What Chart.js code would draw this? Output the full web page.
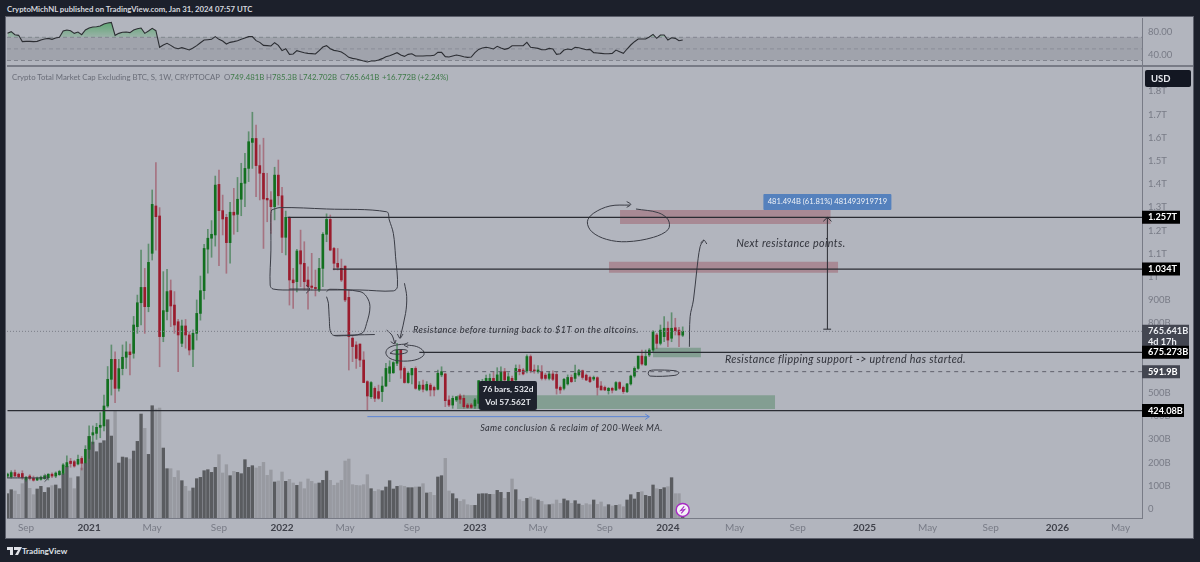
<!DOCTYPE html>
<html>
<head>
<meta charset="utf-8">
<script src="https://cdn.jsdelivr.net/npm/chart.js@4/dist/chart.umd.min.js"></script>
<style>
html,body{margin:0;padding:0;background:#1c202b;width:1200px;height:562px;overflow:hidden}
body{position:relative;font-family:Lato,sans-serif}
#panel{position:absolute;left:6px;top:17px;width:1187px;height:521px;background:#b2b5be;box-shadow:0 0 0 1px #5c5f6b}
canvas{position:absolute;left:7px}
#rsiCanvas{top:18px}
#mainCanvas{top:67px}
#divider{position:absolute;left:7px;top:65px;width:1186px;height:2px;background:#787b86}
#head{position:absolute;left:7px;top:4px;color:#d5d7de;font-size:7.8px;font-weight:700;white-space:nowrap}
.leg{position:absolute;top:72px;font-size:7.8px;color:#6a6d78;white-space:nowrap}
.leg b{font-weight:400;color:#3f7a49}
#brand{position:absolute;left:22px;top:546px;color:#dfe1e7;font-size:8.2px;font-weight:700}
#logo{position:absolute;left:7px;top:547px}
</style>
</head>
<body>
<div id="panel"></div>
<div id="head">CryptoMichNL published on TradingView.com, Jan 31, 2024 07:57 UTC</div>
<canvas id="rsiCanvas" width="1186" height="48"></canvas>
<canvas id="mainCanvas" width="1186" height="471"></canvas>
<div id="divider"></div>
<div class="leg" style="left:12px">Crypto Total Market Cap Excluding BTC, S, 1W, CRYPTOCAP</div>
<div class="leg" style="left:224px">O<b>749.481B</b></div>
<div class="leg" style="left:266px">H<b>785.3B</b></div>
<div class="leg" style="left:299px">L<b>742.702B</b></div>
<div class="leg" style="left:340px">C<b>765.641B</b></div>
<div class="leg" style="left:382px"><b>+16.772B (+2.24%)</b></div>
<svg id="logo" width="15" height="9" viewBox="0 0 15 9"><path d="M0 0h6v8H3V3H0zM7 0h8l-4 8H8l3-5H7z" fill="#dfe1e7"/></svg>
<div id="brand">TradingView</div>
<script>
// weekly candles, price in billions of USD
let opens=[142,139,157,150,153,128,142,132,125,128,
131,135,150,142,148,154,183,206,204,194,
218,200,257,319,326,352,358,444,559,645,
520,605,654,677,671,786,889,955,872,1102,
1306,1263,743,851,941,879,807,714,789,750,
688,757,843,941,1120,1167,1181,1399,1286,1257,
1148,1279,1270,1335,1404,1468,1580,1597,1480,1447,
1339,1332,1303,1439,1350,1171,1253,987,980,1113,
1059,987,961,955,944,1037,1184,1248,1123,1059,
1037,1047,912,736,707,711,642,549,484,520,
506,506,530,585,587,628,685,606,545,578,
606,516,534,513,534,524,516,578,582,470,
448,470,487,477,448,448,444,455,470,520,
527,563,542,549,592,549,563,556,602,599,
595,657,599,592,592,577,563,582,580,524,
520,539,567,563,578,596,577,567,560,566,
530,524,510,520,513,545,524,506,539,573,
606,659,621,664,685,750,714,743,779,736,
781,771,749]
let highs=[155,165,168,155,165,140,148,142,138,142,
146,152,156,160,167,196,229,218,210,232,
226,273,358,358,369,415,491,614,707,677,
645,707,721,711,830,922,1116,1037,1142,1375,
1493,1299,1023,1033,987,937,817,814,817,764,
772,901,1004,1141,1205,1243,1435,1461,1353,1270,
1322,1382,1429,1490,1533,1626,1710,1655,1569,1598,
1447,1368,1473,1504,1386,1284,1260,1037,1119,1202,
1152,1044,1102,1030,1080,1191,1272,1267,1128,1123,
1077,1047,944,743,721,711,678,553,549,527,
534,570,628,639,635,714,688,613,592,606,
613,549,556,549,542,530,599,613,585,488,
487,484,495,491,455,455,477,553,559,577,
582,592,609,613,606,587,573,621,621,606,
664,664,621,618,618,585,592,596,590,530,
563,578,578,620,602,599,582,573,573,570,
549,530,524,525,549,549,530,542,577,613,
659,685,685,692,769,757,793,829,807,846,
822,783,785]
let lows=[135,133,140,135,128,120,125,120,122,124,
128,125,135,135,145,148,180,180,180,190,
168,197,218,280,300,307,337,438,491,458,
508,578,606,578,650,757,793,757,850,1073,
1116,613,721,815,786,757,592,700,693,664,
613,728,814,904,1016,1085,1133,1049,1181,1016,
1059,1184,1195,1264,1303,1411,1468,1346,1332,1123,
1238,1188,1246,1310,1105,1095,879,865,936,958,
944,861,944,918,937,958,1152,1113,1030,1030,
980,894,599,635,606,613,545,427,477,463,
473,463,527,549,585,618,563,542,542,539,
516,510,505,509,487,487,513,570,441,441,
434,463,455,434,434,434,434,434,463,512,
520,505,520,535,530,530,515,545,578,578,
587,587,585,585,556,556,556,553,495,498,
513,534,545,549,573,559,553,545,553,491,
513,510,495,500,510,515,498,501,534,567,
602,620,618,657,678,692,707,721,700,721,
750,700,743]
let closes=[151,157,142,139,136,137,132,124,133,137,
143,150,142,155,162,190,200,196,185,214,
197,257,312,329,352,361,444,559,645,520,
605,654,677,665,793,889,955,872,1063,1313,
1260,743,855,937,875,793,750,789,750,685,
757,843,941,1123,1167,1184,1396,1286,1250,1148,
1279,1267,1335,1404,1468,1583,1597,1480,1447,1336,
1332,1303,1439,1350,1171,1257,987,975,1112,1056,
980,958,955,950,1037,1184,1248,1116,1059,1042,
987,901,743,700,649,642,545,487,545,477,
477,530,606,613,631,685,599,545,585,606,
520,534,516,537,513,513,585,592,467,448,
477,484,473,441,438,438,470,553,542,563,
563,524,578,592,556,570,534,606,592,582,
657,596,595,599,563,563,582,559,520,513,
559,567,549,585,596,567,556,549,567,524,
513,513,520,512,545,520,506,539,573,606,
659,625,657,685,764,714,771,779,728,779,
769,750,766]
let volumes=[608,708,675,591,858,975,741,583,725,791,
641,758,808,825,733,1108,1291,1000,733,1033,
1250,1374,2041,1899,1658,1874,1933,2457,2049,2666,
1374,1524,1508,1474,1674,1916,2599,2241,1591,2807,
2724,2749,1749,1233,1233,1016,1183,933,791,675,
750,983,1016,1183,1208,1141,1266,1583,1125,1333,
1058,1166,1141,1108,1458,1266,1308,1250,1291,1391,
1066,1200,900,925,1150,916,966,875,816,900,
733,975,916,858,875,941,1174,941,816,875,
941,1424,1474,833,816,808,833,1083,733,666,
708,683,775,933,725,791,808,791,758,758,
775,775,858,625,641,566,1025,1058,1491,675,
608,483,416,458,333,316,316,600,608,608,
591,591,691,641,491,641,975,708,458,416,
491,525,483,450,416,333,333,350,450,366,
475,433,366,433,350,316,358,333,450,341,
400,283,333,300,316,333,283,450,583,475,
641,658,566,541,825,733,716,758,783,1008,
608,608,165]
let rsi=[76.8,79.7,74.5,73.4,62.5,63,63,62.5,63,65.3,
67,68.2,66.5,68.8,70,80.9,82.6,81.4,76.8,79.1,
74.5,82.6,86,87.7,88.3,89.5,92.9,94.6,95.8,73.4,
76.8,78.6,79.1,78,82.6,84.9,86,76.8,80.9,85.4,
81.4,52.7,56.7,59.6,56.1,52.1,50.4,52.1,50.4,48.1,
51.5,55.6,60.7,65.3,65.9,66.5,71.1,66.5,63.6,58.4,
61.3,62.5,64.2,66.5,68.8,71.1,71.1,64.2,61.3,56.1,
55.6,55,60.7,56.1,47,50.4,40.6,41.2,47,45.2,
43.5,42.3,41.8,41.2,47,53.3,55.6,50.4,47.5,46.4,
44.6,40.6,35.4,33.7,32.6,30.9,29.1,27.4,29.1,29.1,
30.9,33.2,36.6,38.3,40.6,43.5,39.4,37.1,40.6,41.7,
37.7,37.7,37.7,38.3,38.3,38.9,44,44,36.6,36,
37.7,39.4,38.3,36.6,35.4,36,43.5,49.2,51.5,52.7,
51.5,49.8,54.4,51.5,49.2,50.9,55.5,55.5,55.5,55.5,
61.3,52.7,52.1,50.9,48.6,48.6,50.9,49.8,40.6,41.7,
48,49.8,48.6,52.7,52.1,50.4,48.6,49.2,43.5,42.9,
42.3,41.7,41.7,42.3,48,45.2,42.3,49.8,56.7,62.4,
67,67,67,70.5,75,68.2,73.9,73.9,65.3,69.3,
68.2,64.1,65.3]

let xTickWeeks=[5,22,39,57,74,91,109,126,143,161,178,196,213,231,248,265,283,300]
let xTickLabels=["Sep","2021","May","Sep","2022","May","Sep","2023","May","Sep","2024","May","Sep","2025","May","Sep","2026","May"]
let priceTicks=[0,100,200,300,400,500,600,700,800,900,1000,1100,1200,1300,1400,1500,1600,1700,1800]
let priceTickLabels=["0","100B","200B","300B","400B","500B","600B","700B","800B","900B","1T","1.1T","1.2T","1.3T","1.4T","1.5T","1.6T","1.7T","1.8T"]
let rsiTicks=[40,80]
let rsiTickLabels=["40.00","80.00"]

// horizontal levels drawn by hand: value, first week
let solidLevels=[1257,1034,675.273,424.08]
let solidStarts=[75.5,87.7,111,0]
let dashedLevel=591.9
let dashedStart=110.7
let lastPrice=765.641

// shaded zones: first week, last week, low, high
let zoneStarts=[165.1,162.1,174,121.1]
let zoneEnds=[221.9,223.9,186.9,206.9]
let zoneLows=[1228,1018,654,431]
let zoneHighs=[1289,1066,695,490]
let zoneColors=["rgba(150,50,65,.33)","rgba(150,50,65,.33)","rgba(60,125,80,.4)","rgba(60,125,80,.4)"]

// pen strokes, [week,price]
let boxOne=[[71.2,1289],[73.5,1299],[86,1293],[102.2,1281],[102.9,1246],[104,1188],[104.6,1087],[105.1,958],[104,940],[95,944],[77,944],[71.6,948],[70.8,965],[71,1116],[71,1274],[71.2,1289]]
let boxTwo=[[86,937],[86.9,947],[95,937],[96.8,915],[97.7,872],[96.8,800],[95.5,757],[90.5,747],[87.4,754],[86.7,829],[86.5,887],[86,915]]
let boxTwoTail=[[88,748],[99,752]]
let penArrow=[[107,973],[107.6,915],[107.3,843],[105.8,736]]
let penArrowHead=[[105.1,754],[105.8,736],[106.6,754]]
let sideArrow=[[102.2,771],[103.6,750],[104.4,714]]
let sideArrowHead=[[103.3,721],[104.4,712],[104.7,728]]
let ringOuter=[[107.6,707],[110.3,700],[112.1,681],[112.1,661],[109.8,642],[105.8,638],[103.1,649],[102,671],[102.6,693],[104.9,707],[107.6,711]]
let ringInner=[[103.1,671],[104.4,685],[107.6,685],[107.6,674],[104.9,667],[103.1,671]]
let ringHead=[[108,717],[106.9,707],[108,697]]
let pill=[[173,596],[174.1,599],[179.9,596],[181,587],[179.9,576],[173.2,573],[172.7,585],[173,596]]
let bigRing=[[167.8,1310],[162.4,1306],[157.9,1274],[156.3,1238],[157.5,1195],[161.5,1162],[166.9,1152],[174.1,1171],[178.1,1205],[178.1,1246],[175.4,1277],[169.4,1293]]
let bigRingHead=[[166.9,1325],[168,1313],[166.9,1300]]
let upArrow=[[183.8,699],[184,829],[184.9,901],[185.8,1030],[186.7,1131],[187.7,1159]]
let upArrowHead=[[186.8,1145],[187.7,1159],[188.5,1142]]
let boxArrow=[[76,948],[81.5,948]]
let boxArrowHead=[[80.5,965],[81.5,948],[80.5,930]]
let lowArrow=[[-0.1,134],[10.9,134]]
let lowArrowHead=[[10,118],[10.9,134],[10,150]]
let measure=[[221,775],[221,1257]]
let measureCap=[[219.9,775],[222,775]]
let measureHead=[[219.9,1240],[221,1257],[222.1,1240]]
let blueArrow=[[97,398],[173,398]]
let blueHead=[[171.9,409],[173,398],[171.9,386]]

let penStrokes=[boxOne,boxTwo,boxTwoTail,penArrow,penArrowHead,sideArrow,sideArrowHead,ringOuter,ringInner,ringHead,pill,bigRing,bigRingHead,upArrow,upArrowHead,boxArrow,boxArrowHead,lowArrow,lowArrowHead]
let rulerStrokes=[measure,measureCap,measureHead]

// italic notes on the chart
let noteTexts=["Resistance before turning back to $1T on the altcoins.","Next resistance points.","Resistance flipping support -> uptrend has started.","Same conclusion & reclaim of 200-Week MA."]
let noteWeeks=[109.3,196.4,193.4,127.4]
let notePrices=[771,1146,642,349]
let noteSizes=[9.3,10.8,10.7,9]

// price labels on the right axis
let levelLabels=["1.257T","1.034T","675.273B","591.9B","424.08B"]
let levelValues=[1257,1034,675.273,591.9,424.08]
let levelWidths=[38,38,47,38,42]
let levelFills=["#000","#000","#000","#434651","#000"]

let weeks=opens.map((v,i)=>i)
let xMin=-0.135
let xMax=305.8
let axisGrey="#787b86"
let fontName='Lato,sans-serif'

let up=i=>closes[i]>=opens[i]
let isYear=ctx=>ctx.tick&&/^20/.test(ctx.tick.label)
let lineSet=(points,color,width,dash,smooth)=>({
    type:"line",
    data:points.map(p=>({x:p[0],y:p[1]})),
    borderColor:color,
    borderWidth:width,
    borderDash:dash||[],
    pointRadius:0,
    tension:smooth?0.35:0,
    fill:false,
    order:1
})
let zoneSet=(i)=>({
    type:"line",
    data:[{x:zoneStarts[i],y:zoneHighs[i]},{x:zoneEnds[i],y:zoneHighs[i]}],
    borderWidth:0,
    pointRadius:0,
    fill:{target:{value:zoneLows[i]},above:zoneColors[i],below:zoneColors[i]},
    order:6
})

// keep the plot area the full canvas height, tick labels may overhang
let fitPriceAxis=(scale)=>{
    scale.width=51
    scale.paddingTop=0
    scale.paddingBottom=0
    scale._margins.top=0
    scale._margins.bottom=0
}

// RSI pane
let rsiCtx=document.querySelector("#rsiCanvas").getContext("2d")
let rsiGreen=rsiCtx.createLinearGradient(0,0,0,20)
rsiGreen.addColorStop(0,"rgba(46,160,70,.75)")
rsiGreen.addColorStop(1,"rgba(46,160,70,.15)")

new Chart(rsiCtx,{
    type:"line",
    data:{
        datasets:[
            {data:[{x:xMin,y:70},{x:xMax,y:70}],borderColor:"#82858f",borderWidth:1,borderDash:[4,3],pointRadius:0,
                fill:{target:{value:30},above:"rgba(120,123,134,.3)",below:"transparent"},order:3},
            {data:[{x:xMin,y:50},{x:xMax,y:50}],borderColor:"#92959f",borderWidth:1,borderDash:[4,3],pointRadius:0,fill:false,order:3},
            {data:[{x:xMin,y:30},{x:xMax,y:30}],borderColor:"#82858f",borderWidth:1,borderDash:[4,3],pointRadius:0,fill:false,order:3},
            {data:weeks.map(i=>({x:i,y:rsi[i]})),borderColor:"#2c2e33",borderWidth:1.1,pointRadius:0,
                fill:{target:{value:70},above:rsiGreen,below:"transparent"},order:1}
        ]
    },
    options:{
        animation:false,
        responsive:false,
        devicePixelRatio:1,
        layout:{padding:0,autoPadding:false},
        plugins:{legend:{display:false},tooltip:{enabled:false}},
        scales:{
            x:{type:"linear",min:xMin,max:xMax,display:false},
            y:{
                position:"right",min:20.5,max:103.3,
                afterBuildTicks:scale=>{scale.ticks=rsiTicks.map(value=>({value}))},
                afterFit:fitPriceAxis,
                grid:{display:false,drawTicks:false},
                border:{color:axisGrey},
                ticks:{padding:6,color:axisGrey,font:{family:fontName,size:9.5},
                    callback:v=>rsiTickLabels[rsiTicks.indexOf(v)]}
            }
        }
    }
})

// labels, notes and boxes that sit on top of the price pane
let overlay={
    id:"overlay",
    afterDraw:(chart)=>{
        let ctx=chart.ctx
        let x=chart.scales.x
        let y=chart.scales.y
        let box=(left,top,w,h,fill,r)=>{
            ctx.fillStyle=fill
            ctx.beginPath()
            ctx.roundRect(left,top,w,h,r||0)
            ctx.fill()
        }
        ctx.save()
        ctx.textBaseline="middle"
        ctx.textAlign="left"

        ctx.fillStyle="#30323a"
        noteTexts.forEach((t,i)=>{
            ctx.font=`italic ${noteSizes[i]}px ${fontName}`
            ctx.letterSpacing="0.35px"
            ctx.fillText(t,x.getPixelForValue(noteWeeks[i]),y.getPixelForValue(notePrices[i]))
        })
        ctx.letterSpacing="0px"

        // measure label
        let mx=x.getPixelForValue(221)
        let my=y.getPixelForValue(1323)
        box(mx-64,my-8,128,16,"#5581bd",1)
        ctx.fillStyle="#eef1f6"
        ctx.font=`7.6px ${fontName}`
        ctx.textAlign="center"
        ctx.fillText("481.494B (61.81%) 481493919719",mx,my)

        // bars range tooltip
        let tx=x.getPixelForValue(134.9)
        let ty=y.getPixelForValue(489)
        box(tx-29,ty-14.5,58,29,"#1e222d",2)
        ctx.fillStyle="#e6e8ee"
        ctx.font=`700 8.4px ${fontName}`
        ctx.fillText("76 bars, 532d",tx,ty-6.5)
        ctx.fillText("Vol 57.562T",tx,ty+6.5)

        // right axis labels
        let ax=chart.chartArea.right
        ctx.textAlign="left"
        ctx.font=`700 9.2px ${fontName}`
        let py=y.getPixelForValue(lastPrice)
        box(ax,py-6.5,47,25,"#434651")
        ctx.fillStyle="#eceef2"
        ctx.fillText("765.641B",ax+6,py)
        ctx.fillText("4d 17h",ax+6,py+11)
        levelLabels.forEach((t,i)=>{
            let ly=y.getPixelForValue(levelValues[i])
            box(ax,ly-6.5,levelWidths[i],13,levelFills[i])
            ctx.fillStyle="#fff"
            ctx.fillText(t,ax+6,ly)
        })
        box(ax+3,3,46,17,"#131722",2)
        ctx.fillStyle="#e6e8ee"
        ctx.font=`700 9.5px ${fontName}`
        ctx.fillText("USD",ax+9,11.5)

        // lightning badge on the last bar
        let bx=x.getPixelForValue(182)
        let by=y.getPixelForValue(-4)
        ctx.beginPath()
        ctx.arc(bx,by,6.5,0,Math.PI*2)
        ctx.fillStyle="#f5f2f7"
        ctx.fill()
        ctx.lineWidth=1.4
        ctx.strokeStyle="#a82bc4"
        ctx.stroke()
        ctx.beginPath()
        ctx.moveTo(bx+1.5,by-3.5)
        ctx.lineTo(bx-2,by+0.5)
        ctx.lineTo(bx+2,by-0.5)
        ctx.lineTo(bx-1.5,by+3.5)
        ctx.lineWidth=1.1
        ctx.stroke()
        ctx.restore()
    }
}

let datasets=[]
datasets.push({
    data:weeks.map(i=>({x:i,y:volumes[i]})),
    yAxisID:"yVol",grouped:false,barThickness:2.7,order:8,
    backgroundColor:ctx=>up(ctx.dataIndex)?"#5a5c60":"#989aa1"
})
datasets.push({
    data:weeks.map(i=>({x:i,y:[lows[i],highs[i]]})),
    grouped:false,barThickness:1,order:5,
    backgroundColor:ctx=>up(ctx.dataIndex)?"rgba(28,110,45,.55)":"rgba(150,35,55,.45)"
})
datasets.push({
    data:weeks.map(i=>({x:i,y:[opens[i],closes[i]]})),
    grouped:false,barThickness:2,minBarLength:1,order:4,
    backgroundColor:ctx=>up(ctx.dataIndex)?"#12701f":"#9a1c2d"
})
zoneStarts.forEach((z,i)=>datasets.push(zoneSet(i)))
solidLevels.forEach((v,i)=>datasets.push(lineSet([[solidStarts[i],v],[xMax,v]],"#2a2c33",1.2)))
datasets.push(lineSet([[dashedStart,dashedLevel],[xMax,dashedLevel]],"#5f616b",1,[4,4]))
datasets.push(lineSet([[xMin,lastPrice],[xMax,lastPrice]],"#7b7e88",1,[1,2]))
penStrokes.forEach(s=>datasets.push(lineSet(s,"#3a3c45",1,[],true)))
rulerStrokes.forEach(s=>datasets.push(lineSet(s,"#2a2c33",1)))
datasets.push(lineSet(blueArrow,"#5b84d6",1))
datasets.push(lineSet(blueHead,"#5b84d6",1))

new Chart(document.querySelector("#mainCanvas"),{
    type:"bar",
    data:{datasets:datasets},
    plugins:[overlay],
    options:{
        animation:false,
        responsive:false,
        devicePixelRatio:1,
        layout:{padding:0,autoPadding:false},
        plugins:{legend:{display:false},tooltip:{enabled:false}},
        scales:{
            x:{
                type:"linear",min:xMin,max:xMax,offset:false,
                afterBuildTicks:scale=>{scale.ticks=xTickWeeks.map(value=>({value}))},
                afterFit:scale=>{scale.height=20},
                grid:{display:false,drawTicks:false},
                border:{color:axisGrey},
                ticks:{
                    padding:4,autoSkip:false,maxRotation:0,
                    color:ctx=>isYear(ctx)?"#3f414a":axisGrey,
                    font:ctx=>({family:fontName,size:10,weight:isYear(ctx)?"700":"400"}),
                    callback:v=>xTickLabels[xTickWeeks.indexOf(v)]
                }
            },
            y:{
                position:"right",min:-38.8,max:1905,
                afterBuildTicks:scale=>{scale.ticks=priceTicks.map(value=>({value}))},
                afterFit:fitPriceAxis,
                grid:{display:false,drawTicks:false},
                border:{color:axisGrey},
                ticks:{padding:6,color:axisGrey,font:{family:fontName,size:9.5},
                    callback:v=>priceTickLabels[priceTicks.indexOf(v)]}
            },
            yVol:{display:false,min:0,max:11275}
        }
    }
})
</script>
</body>
</html>
